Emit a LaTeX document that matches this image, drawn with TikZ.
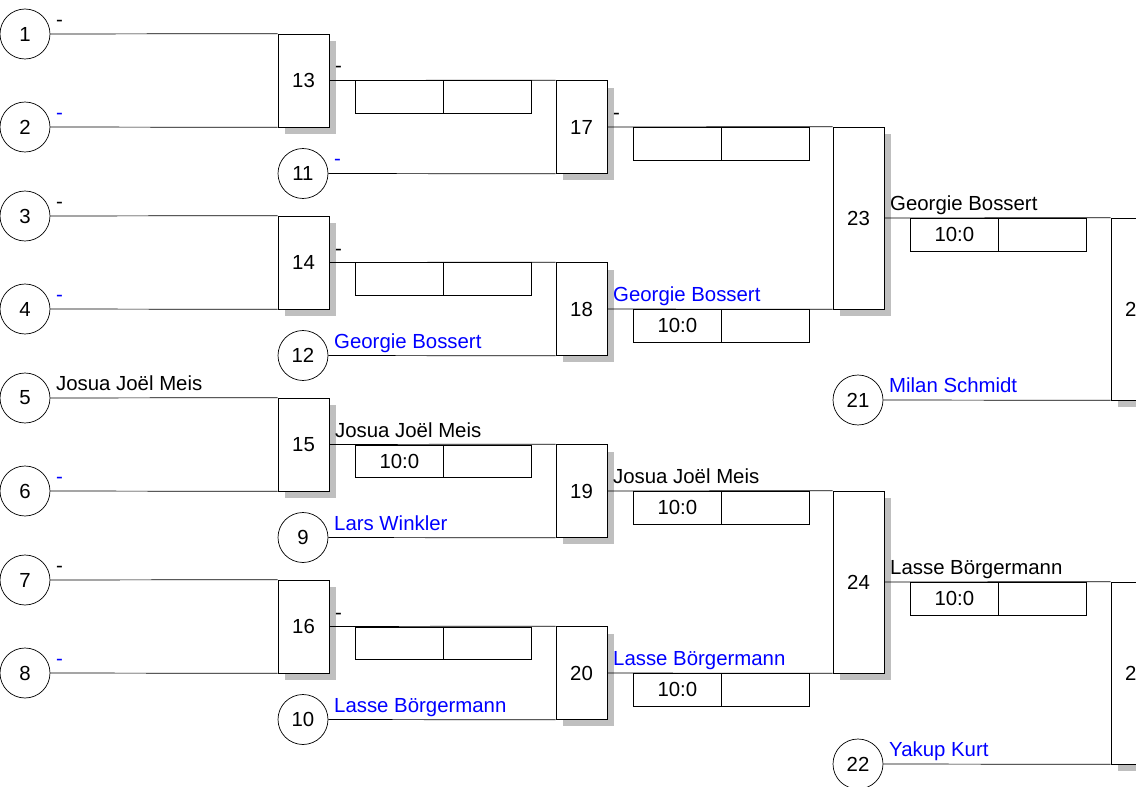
\documentclass[tikz,border=0pt]{standalone}
\usepackage{fontspec}
\setmainfont{Liberation Sans}
\usetikzlibrary{shadows}
\begin{document}
\begin{tikzpicture}[x=0.02cm,y=-0.02cm,font=\fontsize{11.6pt}{14pt}\selectfont]
  \tikzset{ p/.style={circle,draw,fill=white,inner sep=0pt,minimum size=1cm},
    m/.style={rectangle,draw,fill=white,inner sep=0pt,minimum width=1.02cm,minimum height=1.86cm,
      drop shadow={shadow xshift=0.14cm,shadow yshift=-0.14cm,fill=black!25,opacity=1}},
    mm/.style={m,minimum height=3.64cm},
    s/.style={rectangle,draw,anchor=north west,inner sep=0pt,minimum width=1.76cm,minimum height=0.66cm},
    n/.style={anchor=base west,inner sep=0pt,xshift=0.11cm,yshift=0.15cm},
    b/.style={n,blue},
  }
  \clip (0,0) rectangle (1136,787);

  % players
  \node[p] (1) at (25,34)    {1};
  \node[p] (2) at (25,127)   {2};
  \node[p] (3) at (25,216)   {3};
  \node[p] (4) at (25,309)   {4};
  \node[p] (5) at (25,398)   {5};
  \node[p] (6) at (25,491)   {6};
  \node[p] (7) at (25,580)   {7};
  \node[p] (8) at (25,673)   {8};
  \node[p] (11) at (303,173.5) {11};
  \node[p] (12) at (303,355.5) {12};
  \node[p] (9) at (303,537.5)  {9};
  \node[p] (10) at (303,719.5) {10};
  \node[p] (21) at (858,400)  {21};
  \node[p] (22) at (858,764)  {22};

  % matches
  \node[m] (13) at (303.5,80.5)  {13};
  \node[m] (14) at (303.5,262.5) {14};
  \node[m] (15) at (303.5,444.5) {15};
  \node[m] (16) at (303.5,626.5) {16};
  \node[m] (17) at (581.5,127)   {17};
  \node[m] (18) at (581.5,309)   {18};
  \node[m] (19) at (581.5,491)   {19};
  \node[m] (20) at (581.5,673)   {20};
  \node[mm] (23) at (858.5,218)  {23};
  \node[mm] (24) at (858.5,582)  {24};
  \node[mm] (25) at (1136.5,309) {25};
  \node[mm] (26) at (1136.5,673) {26};

  % results
  \node[s] (s13a) at (355,80.5)  {};
  \node[s] (s13b) at (443,80.5)  {};
  \node[s] (s14a) at (355,262.5) {};
  \node[s] (s14b) at (443,262.5) {};
  \node[s] (s15a) at (355,444.5) {10:0};
  \node[s] (s15b) at (443,444.5) {};
  \node[s] (s16a) at (355,626.5) {};
  \node[s] (s16b) at (443,626.5) {};
  \node[s] (s17a) at (633,127) {};
  \node[s] (s17b) at (721,127) {};
  \node[s] (s18a) at (633,309) {10:0};
  \node[s] (s18b) at (721,309) {};
  \node[s] (s19a) at (633,491) {10:0};
  \node[s] (s19b) at (721,491) {};
  \node[s] (s20a) at (633,673) {10:0};
  \node[s] (s20b) at (721,673) {};
  \node[s] (s23a) at (910,218) {10:0};
  \node[s] (s23b) at (998,218) {};
  \node[s] (s24a) at (910,582) {10:0};
  \node[s] (s24b) at (998,582) {};

  \draw (1.east) -- (13.north west) node[n,at start] {-};
  \draw (2.east) -- (13.south west) node[b,at start] {-};
  \draw (3.east) -- (14.north west) node[n,at start] {-};
  \draw (4.east) -- (14.south west) node[b,at start] {-};
  \draw (5.east) -- (15.north west) node[n,at start] {Josua Joël Meis};
  \draw (6.east) -- (15.south west) node[b,at start] {-};
  \draw (7.east) -- (16.north west) node[n,at start] {-};
  \draw (8.east) -- (16.south west) node[b,at start] {-};

  \draw (13.east) -- (17.north west) node[n,at start] {-};
  \draw (11.east) -- (17.south west) node[b,at start] {-};
  \draw (14.east) -- (18.north west) node[n,at start] {-};
  \draw (12.east) -- (18.south west) node[b,at start] {Georgie Bossert};
  \draw (15.east) -- (19.north west) node[n,at start] {Josua Joël Meis};
  \draw (9.east) -- (19.south west) node[b,at start] {Lars Winkler};
  \draw (16.east) -- (20.north west) node[n,at start] {-};
  \draw (10.east) -- (20.south west) node[b,at start] {Lasse Börgermann};

  \draw (17.east) -- (23.north west) node[n,at start] {-};
  \draw (18.east) -- (23.south west) node[b,at start] {Georgie Bossert};
  \draw (19.east) -- (24.north west) node[n,at start] {Josua Joël Meis};
  \draw (20.east) -- (24.south west) node[b,at start] {Lasse Börgermann};

  \draw (23.east) -- (25.north west) node[n,at start] {Georgie Bossert};
  \draw (21.east) -- (25.south west) node[b,at start] {Milan Schmidt};
  \draw (24.east) -- (26.north west) node[n,at start] {Lasse Börgermann};
  \draw (22.east) -- (26.south west) node[b,at start] {Yakup Kurt};

\end{tikzpicture}
\end{document}
